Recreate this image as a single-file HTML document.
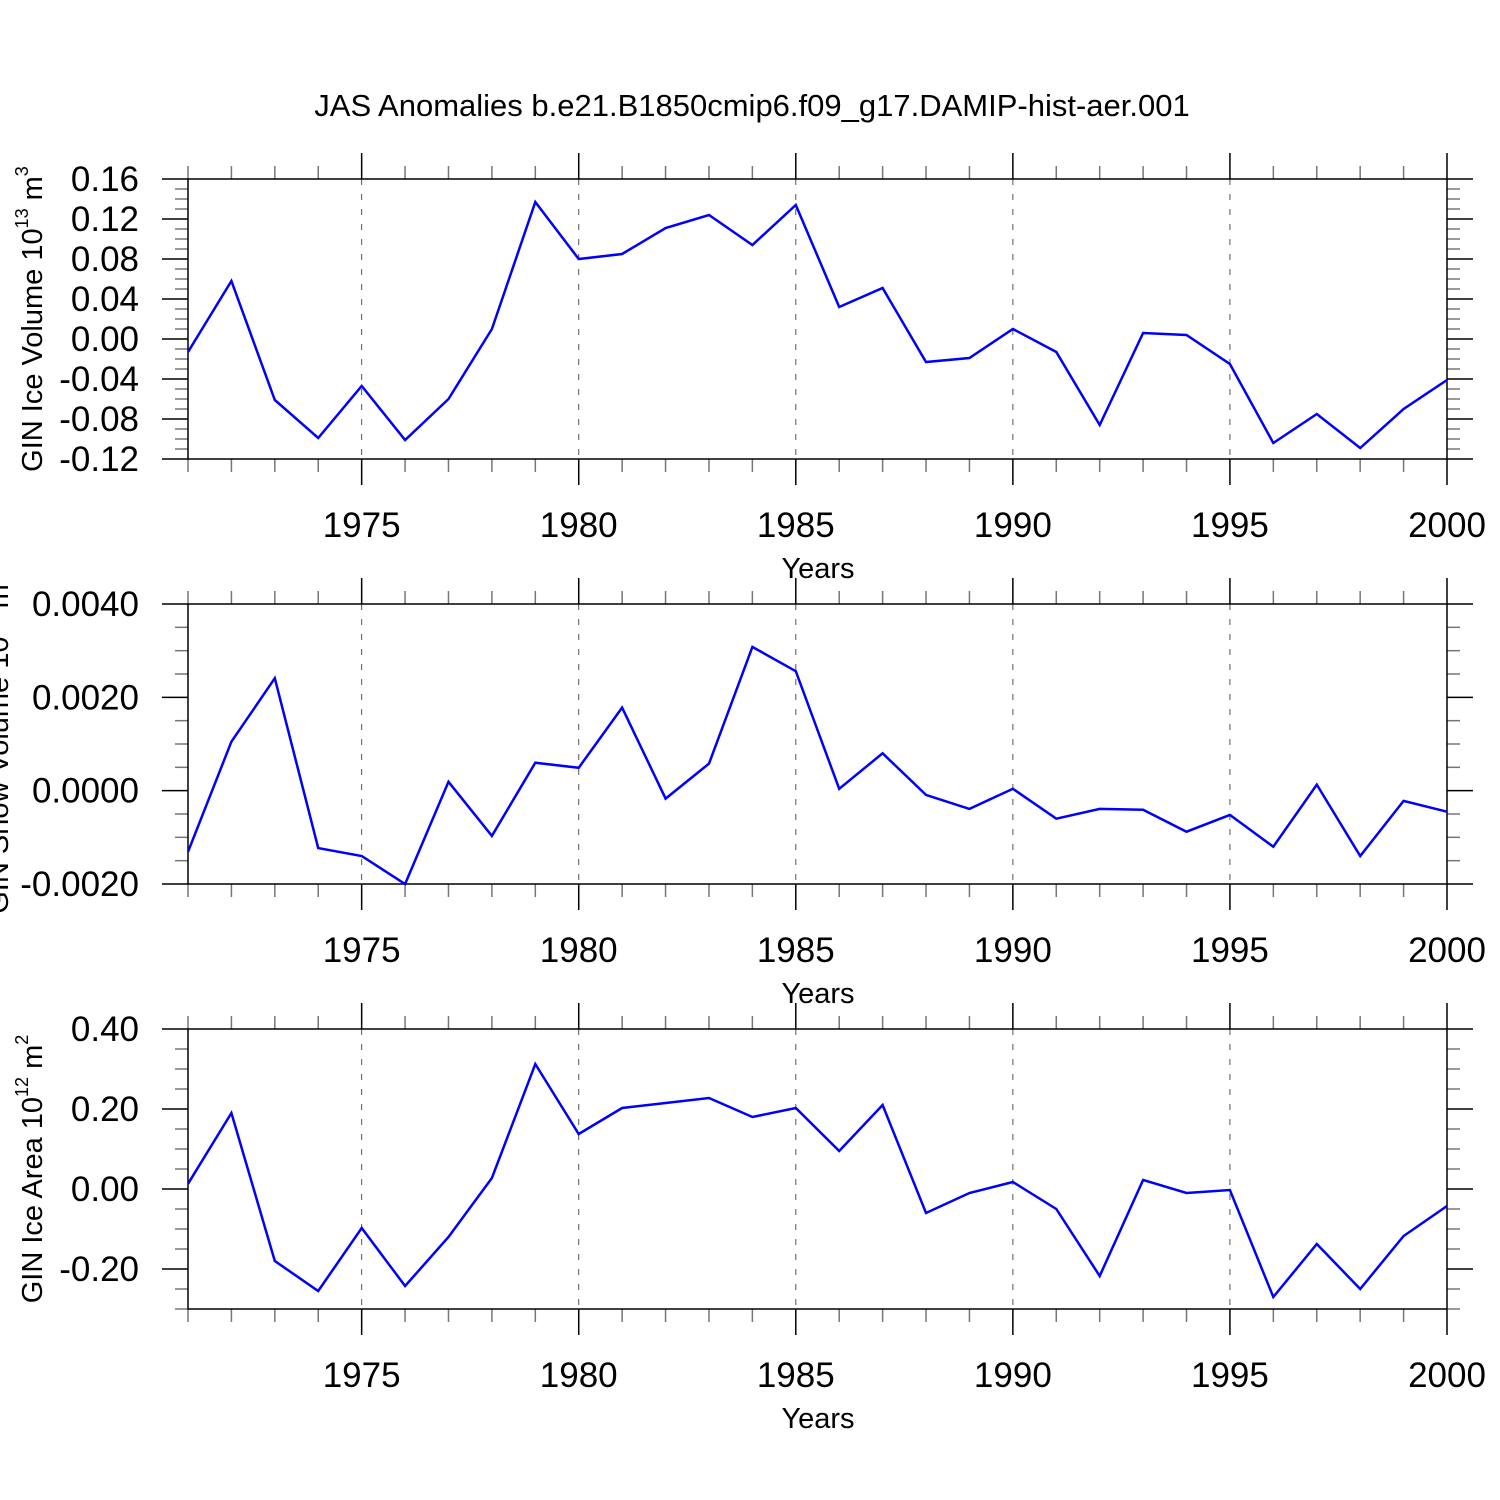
<!DOCTYPE html>
<html><head><meta charset="utf-8"><style>
html,body{margin:0;padding:0;background:#fff;}
svg{display:block;font-family:"Liberation Sans",Arial,sans-serif;}
</style></head><body>
<svg id="chart" width="1500" height="1500" viewBox="0 0 1500 1500" xmlns="http://www.w3.org/2000/svg">
<text x="752" y="116" font-size="31" text-anchor="middle">JAS Anomalies b.e21.B1850cmip6.f09_g17.DAMIP-hist-aer.001</text>
</svg>
<script>
const years = [];
for (let y = 1971; y <= 2000; y++) years.push(y);
const iceVolume = [-0.013,0.058,-0.061,-0.099,-0.047,-0.101,-0.060,0.010,0.137,0.080,0.085,0.111,0.124,0.094,0.134,0.032,0.051,-0.023,-0.019,0.010,-0.013,-0.086,0.006,0.004,-0.025,-0.104,-0.075,-0.109,-0.070,-0.041];
const snowVolume = [-0.00131,0.00105,0.00241,-0.00123,-0.0014,-0.0020,0.00019,-0.00097,0.0006,0.00049,0.00178,-0.00017,0.00058,0.00308,0.00256,0.00004,0.0008,-0.00009,-0.00039,0.00004,-0.0006,-0.00039,-0.00041,-0.00088,-0.00052,-0.0012,0.00013,-0.0014,-0.00022,-0.00045];
const iceArea = [0.013,0.19,-0.18,-0.255,-0.0975,-0.2425,-0.12,0.0275,0.3125,0.1375,0.2025,0.215,0.2275,0.18,0.2025,0.095,0.21,-0.06,-0.01,0.0175,-0.05,-0.2175,0.0225,-0.01,-0.0025,-0.27,-0.1375,-0.25,-0.1175,-0.0425];
const xTickLabels = ["1975","1980","1985","1990","1995","2000"];
const yTicks1 = ["0.16","0.12","0.08","0.04","0.00","-0.04","-0.08","-0.12"];
const yTicks2 = ["0.0040","0.0020","0.0000","-0.0020"];
const yTicks3 = ["0.40","0.20","0.00","-0.20"];

const svg = document.getElementById('chart');
const NS = 'http://www.w3.org/2000/svg';
const X0 = 188, X1 = 1447;
function xs(yr){ return X0 + (yr - 1971) * (X1 - X0) / 29; }
function mk(tag, attrs, parent){
  const e = document.createElementNS(NS, tag);
  for (const k in attrs) e.setAttribute(k, attrs[k]);
  (parent || svg).appendChild(e);
  return e;
}

const panels = [
  {name:'ice-volume', top:179, bottom:459, vmax:0.16, vmin:-0.12, data:iceVolume, ticks:yTicks1, minorStep:0.01, majorStep:0.04, label:'GIN Ice Volume 10', sup:'13', unit:' m', sup2:'3', lx:42, ly:319, fs:29},
  {name:'snow-volume', top:604, bottom:884, vmax:0.004, vmin:-0.002, data:snowVolume, ticks:yTicks2, minorStep:0.0005, majorStep:0.002, label:'GIN Snow Volume 10', sup:'13', unit:' m', sup2:'3', lx:8, ly:744, fs:29},
  {name:'ice-area', top:1029, bottom:1309, vmax:0.4, vmin:-0.3, data:iceArea, ticks:yTicks3, minorStep:0.05, majorStep:0.2, label:'GIN Ice Area 10', sup:'12', unit:' m', sup2:'2', lx:42, ly:1169, fs:29}
];

panels.forEach(p => {
  const g = mk('g', {});
  
  
  const ys = v => p.bottom - (v - p.vmin) * (p.bottom - p.top) / (p.vmax - p.vmin);
  for (let yr = 1975; yr <= 1995; yr += 5) {
    const gl = mk('line', {x1:xs(yr), x2:xs(yr), y1:p.top, y2:p.bottom, stroke:'#555', 'stroke-width':1, 'stroke-dasharray':'6,9'}, g);
    
    
  }
  years.forEach(yr => {
    const major = (yr % 5 === 0);
    const L = major ? 26 : 13;
    const c = major ? '#000' : '#777';
    mk('line', {x1:xs(yr), x2:xs(yr), y1:p.top - L, y2:p.top, stroke:c, 'stroke-width':1.5}, g);
    mk('line', {x1:xs(yr), x2:xs(yr), y1:p.bottom, y2:p.bottom + L, stroke:c, 'stroke-width':1.5}, g);
  });
  const nMinor = Math.round((p.vmax - p.vmin) / p.minorStep);
  const ratio = Math.round(p.majorStep / p.minorStep);
  for (let i = 0; i <= nMinor; i++) {
    const v = p.vmax - i * p.minorStep;
    const y = ys(v);
    const major = (i % ratio === 0) && (p.vmax - v) <= (p.ticks.length - 1) * p.majorStep + 1e-9;
    const L = major ? 26 : 13;
    const c = major ? '#000' : '#777';
    mk('line', {x1:X0 - L, x2:X0, y1:y, y2:y, stroke:c, 'stroke-width':1.5}, g);
    mk('line', {x1:X1, x2:X1 + L, y1:y, y2:y, stroke:c, 'stroke-width':1.5}, g);
  }
  const fr = mk('rect', {x:X0, y:p.top, width:X1 - X0, height:p.bottom - p.top, fill:'none', stroke:'#000', 'stroke-width':1.5}, g);
  
  
  p.ticks.forEach((t, i) => {
    const v = p.vmax - i * p.majorStep;
    const tx = mk('text', {x:139, y:ys(v) + 12, 'font-size':35, 'text-anchor':'end'}, g);
    tx.textContent = t;
    
    
  });
  xTickLabels.forEach(t => {
    const tx = mk('text', {x:xs(+t), y:p.bottom + 78, 'font-size':35, 'text-anchor':'middle'}, g);
    tx.textContent = t;
    
    
  });
  const xt = mk('text', {x:818, y:p.bottom + 119, 'font-size':29, 'text-anchor':'middle'}, g);
  xt.textContent = 'Years';
  
  
  const yt = mk('text', {x:0, y:0, 'font-size':p.fs, 'text-anchor':'middle', transform:'translate(' + p.lx + ',' + p.ly + ') rotate(-90)'}, g);
  
  
  const a = mk('tspan', {}, yt); a.textContent = p.label;
  const b = mk('tspan', {dy:-14, 'font-size':18}, yt); b.textContent = p.sup;
  const c2 = mk('tspan', {dy:14}, yt); c2.textContent = p.unit;
  const d = mk('tspan', {dy:-14, 'font-size':18}, yt); d.textContent = p.sup2;
  const pts = p.data.map((v, i) => xs(years[i]).toFixed(1) + ',' + ys(v).toFixed(1)).join(' ');
  const ln = mk('polyline', {points:pts, fill:'none', stroke:'#0000ff', 'stroke-width':2.5, 'stroke-linejoin':'miter'}, g);
  
  
});
</script>
</body></html>
